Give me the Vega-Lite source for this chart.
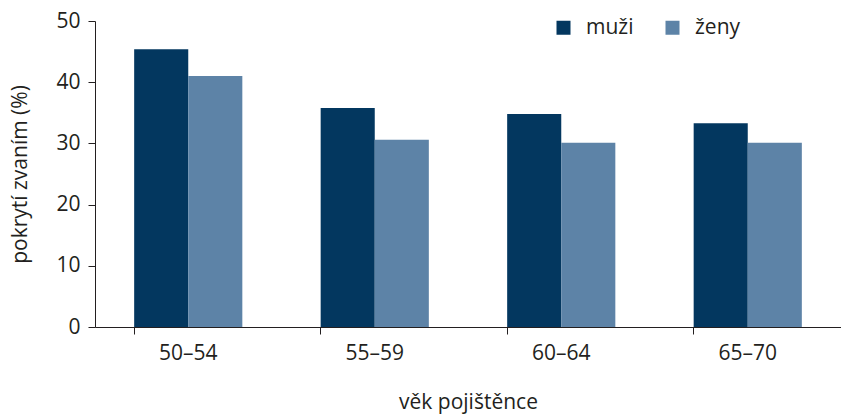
{
  "$schema": "https://vega.github.io/schema/vega-lite/v6.json",
  "width": 746,
  "height": 306,
  "autosize": {"type": "none"},
  "padding": {"left": 95, "top": 21, "right": 0, "bottom": 92},
  "background": "white",
  "config": {
    "view": {"stroke": null},
    "font": "Open Sans",
    "axis": {"labelFont": "Open Sans", "titleFont": "Open Sans", "labelColor": "#231f20", "titleColor": "#231f20", "labelFontSize": 21, "titleFontSize": 21, "titleFontWeight": "normal", "domainColor": "#231f20", "tickColor": "#231f20", "grid": false},
    "legend": {"labelFont": "Open Sans", "labelFontSize": 21, "labelColor": "#231f20"}
  },
  "data": {
    "values": [
      {"vek": "50–54", "pohlavi": "muži", "hodnota": 45.4},
      {"vek": "50–54", "pohlavi": "ženy", "hodnota": 41.0},
      {"vek": "55–59", "pohlavi": "muži", "hodnota": 35.8},
      {"vek": "55–59", "pohlavi": "ženy", "hodnota": 30.6},
      {"vek": "60–64", "pohlavi": "muži", "hodnota": 34.8},
      {"vek": "60–64", "pohlavi": "ženy", "hodnota": 30.1},
      {"vek": "65–70", "pohlavi": "muži", "hodnota": 33.3},
      {"vek": "65–70", "pohlavi": "ženy", "hodnota": 30.1}
    ]
  },
  "mark": {"type": "bar"},
  "encoding": {
    "x": {
      "field": "vek", "type": "nominal", "sort": null,
      "scale": {"paddingInner": 0.42, "paddingOuter": 0.21},
      "axis": {"title": "věk pojištěnce", "labelAngle": 0, "bandPosition": 0, "tickSize": 7, "labelPadding": 8, "titlePadding": 28, "domainWidth": 1, "tickWidth": 1}
    },
    "xOffset": {"field": "pohlavi", "type": "nominal", "sort": ["muži", "ženy"], "scale": {"paddingInner": 0, "paddingOuter": 0}},
    "y": {
      "field": "hodnota", "type": "quantitative",
      "scale": {"domain": [0, 50], "nice": false},
      "axis": {"title": "pokrytí zvaním (%)", "values": [0, 10, 20, 30, 40, 50], "tickSize": 7, "labelPadding": 8, "titlePadding": 25, "domainWidth": 1, "tickWidth": 1}
    },
    "color": {
      "field": "pohlavi", "type": "nominal",
      "scale": {"domain": ["muži", "ženy"], "range": ["#03375f", "#5d83a7"]},
      "legend": {"title": null, "orient": "none", "direction": "horizontal", "legendX": 458, "legendY": -4, "symbolType": "square", "symbolSize": 196, "symbolStrokeWidth": 0, "symbolOpacity": 1, "labelOffset": 12, "columnPadding": 28, "padding": 0}
    }
  }
}
